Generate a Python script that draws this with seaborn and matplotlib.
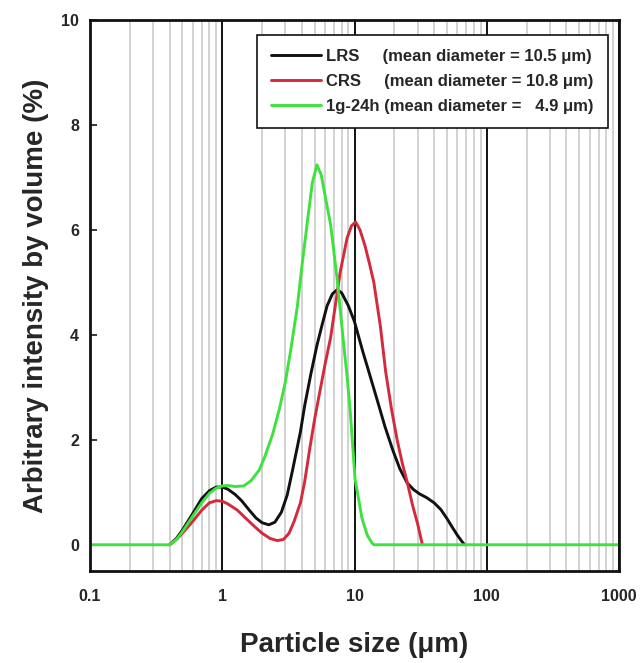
import numpy as np
import pandas as pd
import matplotlib
matplotlib.use("Agg")
import matplotlib.pyplot as plt
import seaborn as sns
from matplotlib.ticker import FixedLocator, FixedFormatter, NullFormatter

# Particle size distributions (size in micrometres, volume in %)
series_names = ["LRS", "CRS", "1g-24h"]
legend_labels = [
    "LRS     (mean diameter = 10.5 \u03bcm)",
    "CRS     (mean diameter = 10.8 \u03bcm)",
    "1g-24h (mean diameter =   4.9 \u03bcm)",
]

lrs_size = [0.40, 0.45, 0.50, 0.60, 0.70, 0.80, 0.90, 1.00, 1.10, 1.25, 1.40,
            1.60, 1.80, 2.00, 2.25, 2.50, 2.80, 3.10, 3.40, 3.90, 4.20, 4.70,
            5.20, 5.70, 6.20, 6.80, 7.40, 8.00, 9.00, 10.0, 11.5, 13.0, 15.0,
            17.0, 19.5, 22.0, 25.0, 28.0, 31.0, 35.0, 40.0, 45.0, 50.0, 55.0,
            60.0, 65.0, 68.0]
lrs_volume = [0.00, 0.12, 0.28, 0.60, 0.88, 1.03, 1.10, 1.10, 1.06, 0.96, 0.84,
              0.66, 0.51, 0.42, 0.38, 0.43, 0.62, 0.95, 1.42, 2.15, 2.65, 3.28,
              3.80, 4.20, 4.55, 4.78, 4.86, 4.80, 4.55, 4.25, 3.70, 3.25, 2.72,
              2.25, 1.80, 1.45, 1.18, 1.05, 0.97, 0.90, 0.80, 0.67, 0.50, 0.33,
              0.18, 0.06, 0.00]

crs_size = [0.40, 0.45, 0.50, 0.60, 0.70, 0.80, 0.90, 1.00, 1.10, 1.30, 1.50,
            1.75, 2.00, 2.30, 2.60, 2.90, 3.20, 3.50, 3.90, 4.20, 4.60, 5.00,
            5.50, 6.00, 6.60, 7.20, 7.80, 8.80, 9.50, 10.2, 11.0, 12.0, 13.0,
            14.0, 15.7, 17.2, 19.0, 21.0, 23.0, 25.0, 27.5, 30.0, 32.6]
crs_volume = [0.00, 0.10, 0.22, 0.45, 0.66, 0.80, 0.84, 0.83, 0.78, 0.66, 0.51,
              0.35, 0.22, 0.12, 0.08, 0.10, 0.22, 0.45, 0.80, 1.20, 1.85, 2.40,
              2.95, 3.45, 3.95, 4.60, 5.20, 5.85, 6.08, 6.15, 6.00, 5.70, 5.35,
              5.00, 4.16, 3.30, 2.60, 2.00, 1.55, 1.20, 0.75, 0.40, 0.00]

g24_size = [0.10, 0.40, 0.45, 0.50, 0.60, 0.70, 0.80, 0.90, 1.00, 1.10, 1.25,
            1.45, 1.65, 1.90, 2.10, 2.40, 2.70, 3.00, 3.30, 3.70, 4.00, 4.40,
            4.80, 5.20, 5.60, 6.10, 6.60, 7.40, 8.30, 8.80, 9.30, 10.1, 11.4,
            12.5, 13.5, 14.0, 1000.0]
g24_volume = [0.00, 0.00, 0.10, 0.25, 0.55, 0.80, 0.98, 1.08, 1.12, 1.13, 1.11,
              1.12, 1.22, 1.42, 1.68, 2.10, 2.58, 3.10, 3.72, 4.55, 5.30, 6.15,
              6.90, 7.24, 7.05, 6.55, 6.10, 5.05, 3.80, 3.20, 2.52, 1.25, 0.50,
              0.18, 0.04, 0.00, 0.00]

x_ticks = [0.1, 1, 10, 100, 1000]
x_tick_labels = ["0.1", "1", "10", "100", "1000"]
y_ticks = [0, 2, 4, 6, 8, 10]

palette = {"LRS": "#111111", "CRS": "#d42a3c", "1g-24h": "#3ee23e"}

df = pd.concat([
    pd.DataFrame({"size": lrs_size, "volume": lrs_volume, "sample": "LRS"}),
    pd.DataFrame({"size": crs_size, "volume": crs_volume, "sample": "CRS"}),
    pd.DataFrame({"size": g24_size, "volume": g24_volume, "sample": "1g-24h"}),
], ignore_index=True)

sns.set_style("ticks")
plt.rcParams["font.family"] = ["Liberation Sans", "DejaVu Sans"]
plt.rcParams["font.weight"] = "bold"
plt.rcParams["axes.labelweight"] = "bold"

fig = plt.figure(figsize=(6.42, 6.63), dpi=100)
ax = fig.add_axes([90 / 642, 1 - 571 / 663, 529 / 642, 551 / 663])

sns.lineplot(data=df, x="size", y="volume", hue="sample", hue_order=series_names,
             palette=palette, sort=False, estimator=None, linewidth=2.1, ax=ax)

ax.set_xscale("log")
ax.set_xlim(0.1, 1000)
ax.set_ylim(-0.5, 10)

ax.xaxis.set_major_locator(FixedLocator(x_ticks))
ax.xaxis.set_major_formatter(FixedFormatter(x_tick_labels))
ax.xaxis.set_minor_locator(FixedLocator(
    [m * 10.0 ** e for e in range(-1, 3) for m in range(2, 10)]))
ax.xaxis.set_minor_formatter(NullFormatter())
ax.set_yticks(y_ticks)

ax.grid(which="minor", axis="x", color="#c6c6c6", linewidth=1.1)
ax.grid(which="major", axis="x", color="#111111", linewidth=1.4)
ax.grid(which="major", axis="y", visible=False)
ax.set_axisbelow(True)

ax.tick_params(axis="x", which="both", direction="in", length=0, pad=13,
               labelsize=11.5)
ax.tick_params(axis="y", direction="in", length=5, width=1.3, pad=8,
               labelsize=11.5, right=False)
for lab in ax.get_xticklabels() + ax.get_yticklabels():
    lab.set_fontweight("bold")

for spine in ax.spines.values():
    spine.set_visible(True)
    spine.set_linewidth(2.0)
    spine.set_color("#111111")

ax.set_xlabel("Particle size (\u03bcm)", fontsize=20, fontweight="bold", labelpad=20)
ax.set_ylabel("Arbitrary intensity by volume (%)", fontsize=20,
              fontweight="bold", labelpad=9)

handles, _ = ax.get_legend_handles_labels()
leg = ax.legend(handles, legend_labels, loc="upper right",
                bbox_to_anchor=(0.979, 0.973), borderaxespad=0,
                fontsize=12, frameon=True, fancybox=False, framealpha=1,
                edgecolor="#111111", handlelength=3.0, handletextpad=0.3,
                labelspacing=0.6, borderpad=0.85)
leg.get_frame().set_linewidth(1.2)
for t in leg.get_texts():
    t.set_fontweight("bold")

fig.savefig("out.png", dpi=100)
